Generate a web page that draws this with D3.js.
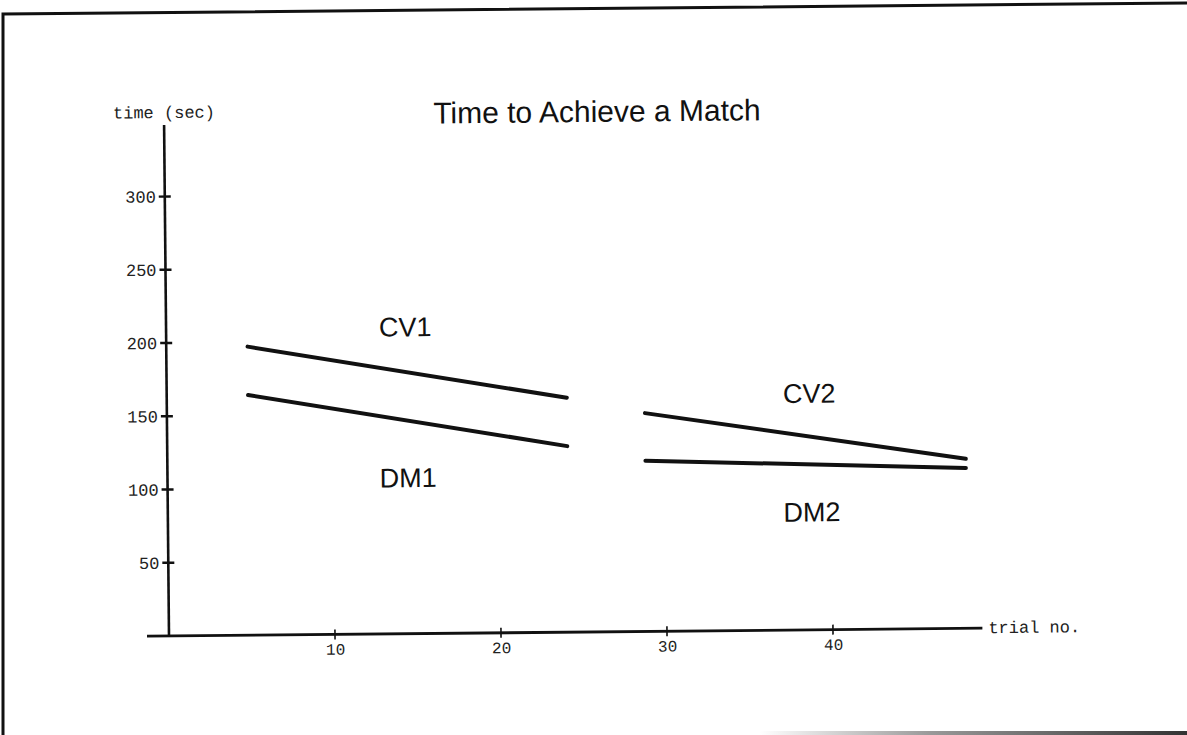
<!DOCTYPE html>
<html><head><meta charset="utf-8">
<script src="https://cdn.jsdelivr.net/npm/d3@7"></script>
<style>body{margin:0;background:#fff}svg{display:block}</style>
</head><body>
<script>
const title = "Time to Achieve a Match";
const yLabel = "time (sec)";
const xLabel = "trial no.";
const yTicks = [50, 100, 150, 200, 250, 300];
const xTicks = [10, 20, 30, 40];
const seriesNames = ["CV1", "DM1", "CV2", "DM2"];
const seriesX = [[4.9, 24.1], [4.9, 24.1], [28.8, 48.1], [28.8, 48.1]];
const seriesY = [[197, 160], [164, 127], [149, 115.7], [116.5, 109.5]];
const labelX = [14.4, 14.5, 38.7, 38.8];
const labelY = [203, 100, 155, 74];

const W = 1187, H = 735;
const svg = d3.select("body").append("svg").attr("width", W).attr("height", H);

// scanned frame
svg.append("path").attr("d", "M3,735 L3,14 L1187,3").attr("fill", "none").attr("stroke", "#111").attr("stroke-width", 3);
const grad = svg.append("defs").append("linearGradient").attr("id", "bg").attr("x1", "0").attr("x2", "1");
grad.append("stop").attr("offset", "0").attr("stop-color", "#fff");
grad.append("stop").attr("offset", "0.4").attr("stop-color", "#999");
grad.append("stop").attr("offset", "1").attr("stop-color", "#333");
svg.append("rect").attr("x", 760).attr("y", 731).attr("width", 427).attr("height", 4).attr("fill", "url(#bg)");

const x = d3.scaleLinear().domain([0, 49]).range([169, 982.4]);
const y = d3.scaleLinear().domain([0, 300]).range([636, 196.5]);

const mono = "'Liberation Mono', 'DejaVu Sans Mono', monospace";
const sans = "'Liberation Sans', Arial, sans-serif";

// whole chart slightly rotated like the scan
const g = svg.append("g").attr("transform", `rotate(-0.55, ${x(0)}, ${y(0)})`);

// y axis
const yAxis = g.append("g").attr("transform", `translate(${x(0)},0)`)
  .call(d3.axisLeft(y).tickValues(yTicks).tickSize(0).tickPadding(9));
yAxis.select(".domain").remove();
yAxis.selectAll("text").attr("font-family", mono).attr("font-size", 17).attr("fill", "#222");
g.append("line").attr("x1", x(0)).attr("x2", x(0)).attr("y1", 125).attr("y2", y(0)).attr("stroke", "#111").attr("stroke-width", 2.6);
g.selectAll(".ytk").data(yTicks).join("line").attr("class", "ytk")
  .attr("x1", x(0) - 6).attr("x2", x(0) + 6).attr("y1", d => y(d)).attr("y2", d => y(d))
  .attr("stroke", "#111").attr("stroke-width", 2.4);

// x axis
const xAxis = g.append("g").attr("transform", `translate(0,${y(0)})`)
  .call(d3.axisBottom(x).tickValues(xTicks).tickSize(0).tickPadding(9));
xAxis.select(".domain").remove();
xAxis.selectAll("text").attr("font-family", mono).attr("font-size", 16).attr("fill", "#222");
g.append("line").attr("x1", x(0) - 22).attr("x2", x(49)).attr("y1", y(0)).attr("y2", y(0)).attr("stroke", "#111").attr("stroke-width", 2.8);
g.selectAll(".xtk").data(xTicks).join("line").attr("class", "xtk")
  .attr("x1", d => x(d)).attr("x2", d => x(d)).attr("y1", y(0) - 5).attr("y2", y(0) + 5)
  .attr("stroke", "#111").attr("stroke-width", 1.6);

g.append("text").attr("x", x(49) + 6).attr("y", y(0) + 5).text(xLabel)
  .attr("font-family", mono).attr("font-size", 17).attr("fill", "#222");
g.append("text").attr("x", x(0)).attr("y", 118).attr("text-anchor", "middle").text(yLabel)
  .attr("font-family", mono).attr("font-size", 17).attr("fill", "#222");

g.append("text").attr("x", 602).attr("y", 126).attr("text-anchor", "middle").text(title)
  .attr("font-family", sans).attr("font-size", 30).attr("fill", "#111");

// series lines
const line = d3.line().x(d => x(d[0])).y(d => y(d[1]));
seriesNames.forEach((n, i) => {
  const pts = seriesX[i].map((xv, j) => [xv, seriesY[i][j]]);
  g.append("path").attr("d", line(pts)).attr("fill", "none").attr("stroke", "#111")
    .attr("stroke-width", 4).attr("stroke-linecap", "round");
  g.append("text").attr("x", x(labelX[i])).attr("y", y(labelY[i])).attr("text-anchor", "middle")
    .text(n).attr("font-family", sans).attr("font-size", 27).attr("fill", "#111");
});
</script>
</body></html>
